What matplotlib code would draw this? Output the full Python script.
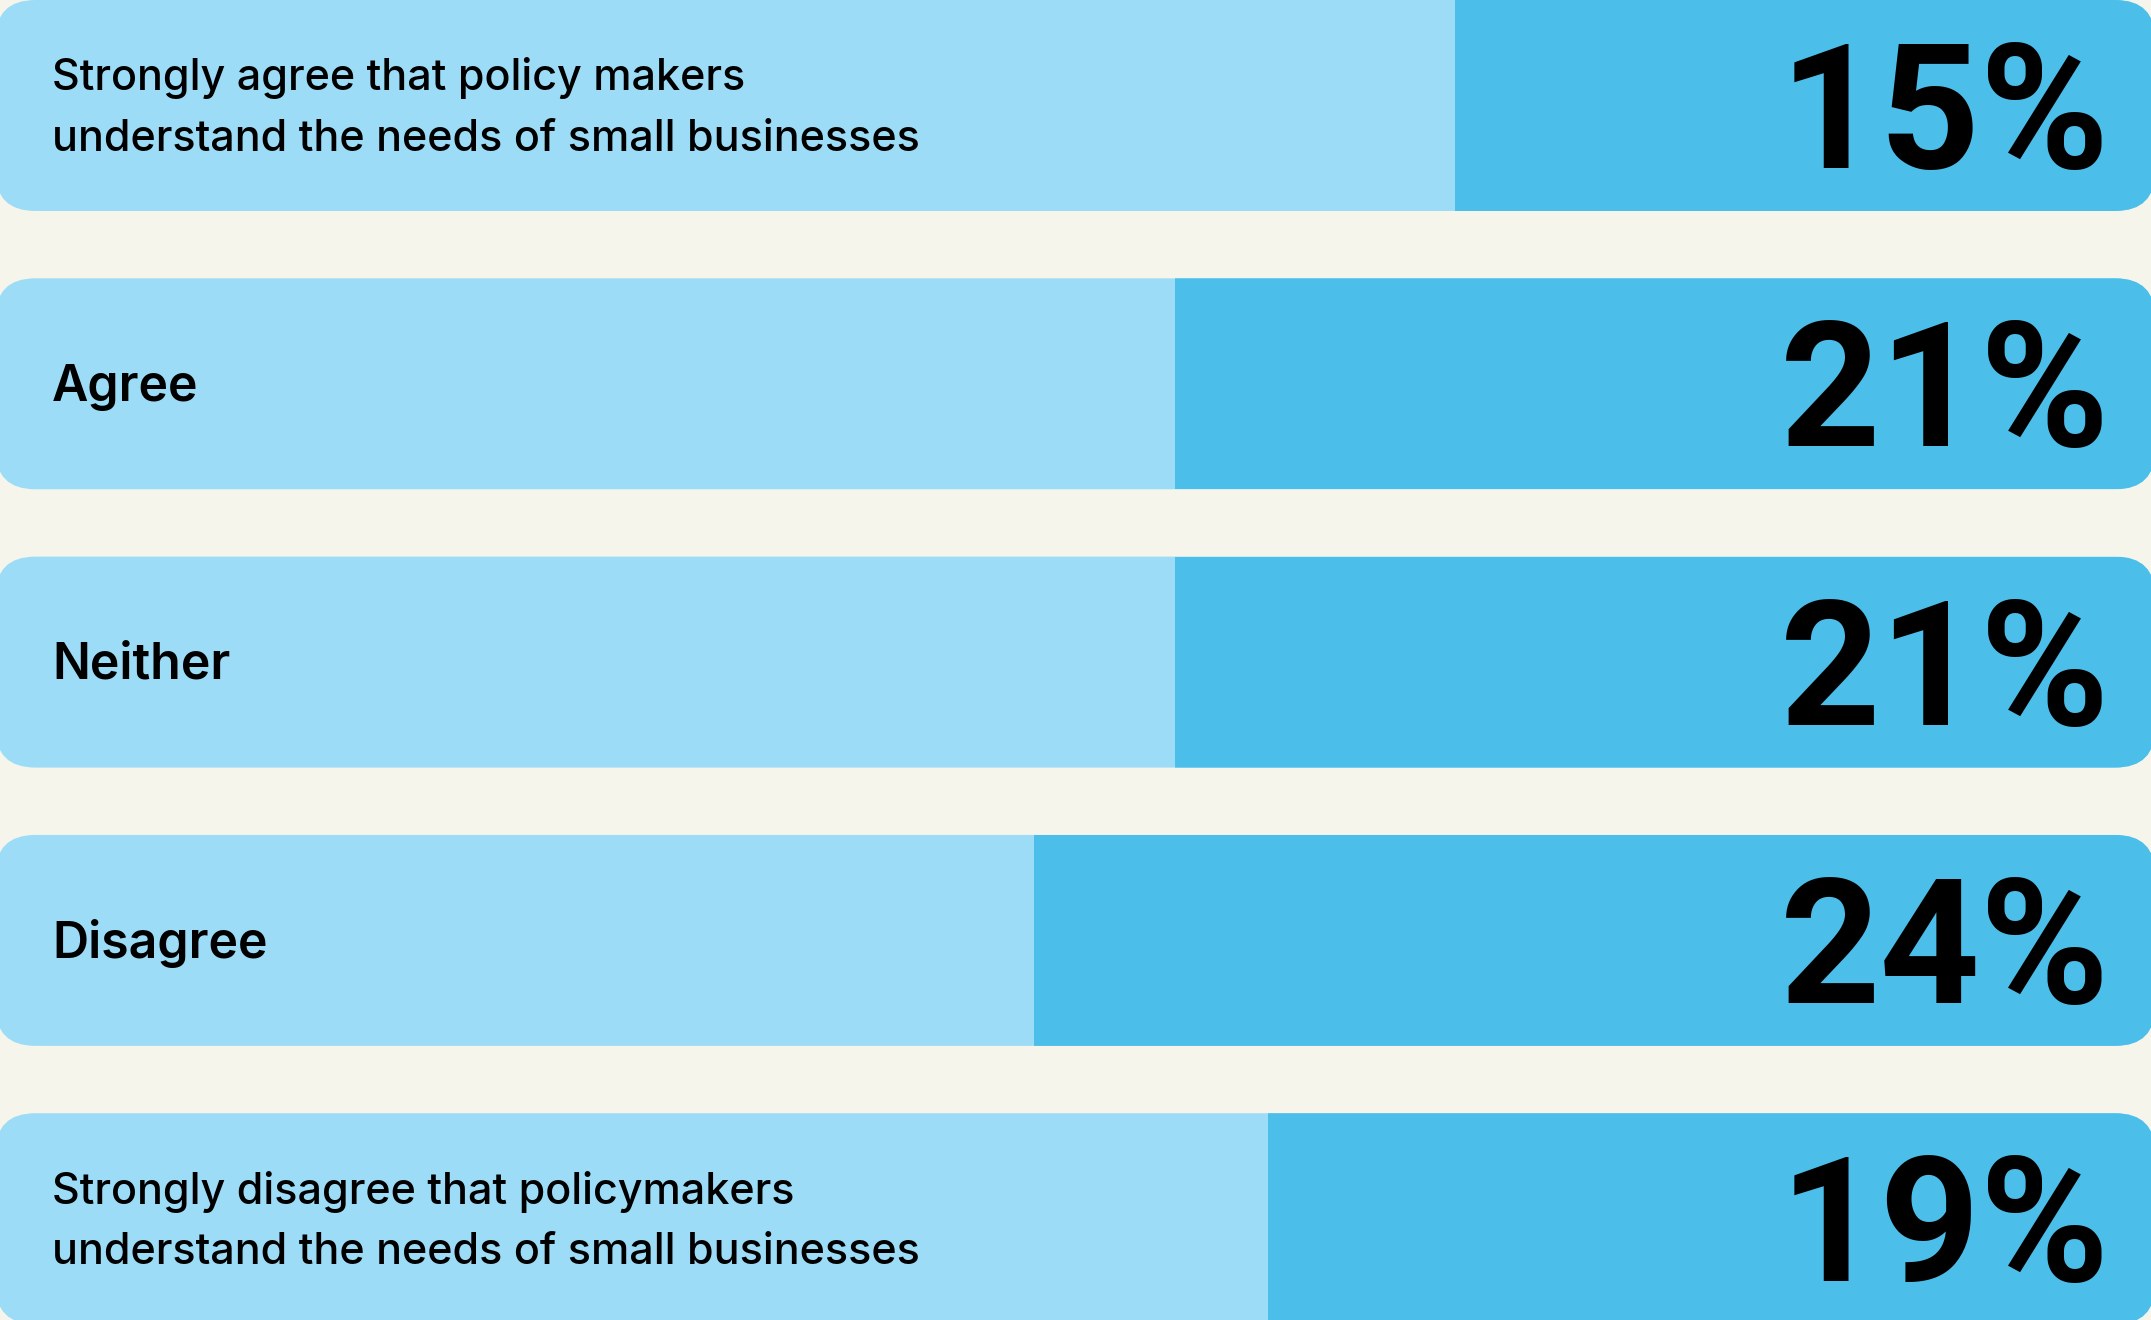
import matplotlib
matplotlib.use("Agg")
import matplotlib.pyplot as plt
from matplotlib.patches import FancyBboxPatch

# Data
LABELS = [
    "Strongly agree that policy makers\nunderstand the needs of small businesses",
    "Agree",
    "Neither",
    "Disagree",
    "Strongly disagree that policymakers\nunderstand the needs of small businesses",
]
VALUES = [15, 21, 21, 24, 19]

# Colours
BG_COL = "#F5F5EB"
LIGHT_COL = "#9CDCF7"
DARK_COL = "#4BBEEA"
TEXT_COL = "#000000"

plt.rcParams["font.family"] = ["Inter", "DejaVu Sans"]

W_PX, H_PX, DPI = 2151, 1320, 100
PX_PER_UNIT = 46.7      # pixels per percentage point
ROW_PX = 278.3          # pixels between bar tops
BAR_H = 0.758           # bar height in row units
X_START, X_END = -0.1, 46.15
RADIUS_PX = 40

fig = plt.figure(figsize=(W_PX / DPI, H_PX / DPI), dpi=DPI, facecolor=BG_COL)
ax = fig.add_axes([0, 0, 1, 1])
ax.set_facecolor(BG_COL)
ax.set_xlim(0, W_PX / PX_PER_UNIT)
top = -105.5 / ROW_PX
ax.set_ylim(top + H_PX / ROW_PX, top)
ax.axis("off")

# rounding in x data units, with aspect to keep corners circular
r_x = RADIUS_PX / PX_PER_UNIT
aspect = PX_PER_UNIT / ROW_PX

for i, (label, val) in enumerate(zip(LABELS, VALUES)):
    # Light rounded background bar
    box = FancyBboxPatch(
        (X_START, i - BAR_H / 2), X_END - X_START, BAR_H,
        boxstyle=f"round,pad=0,rounding_size={r_x}",
        mutation_aspect=aspect,
        facecolor=LIGHT_COL, edgecolor="none", zorder=1,
    )
    ax.add_patch(box)
    # Dark value portion, clipped to the rounded bar
    bars = ax.barh(i, val, left=X_END - val, height=BAR_H,
                   color=DARK_COL, edgecolor="none", zorder=2)
    for b in bars:
        b.set_clip_path(box)

    # Category label - short labels are set a bit larger
    two_line = "\n" in label
    ax.text(52 / PX_PER_UNIT, i + 0.012, label, ha="left", va="center",
            fontsize=31 if two_line else 36,
            fontweight="medium" if two_line else "semibold",
            color=TEXT_COL, linespacing=1.62, zorder=3)

    # Big percentage
    ax.text(2110 / PX_PER_UNIT, i + 62.5 / ROW_PX, f"{val}%",
            ha="right", va="baseline", fontsize=126, fontweight="bold",
            family=["Roboto", "DejaVu Sans"], color=TEXT_COL, zorder=3)

fig.savefig("out.png", dpi=DPI, facecolor=BG_COL)
